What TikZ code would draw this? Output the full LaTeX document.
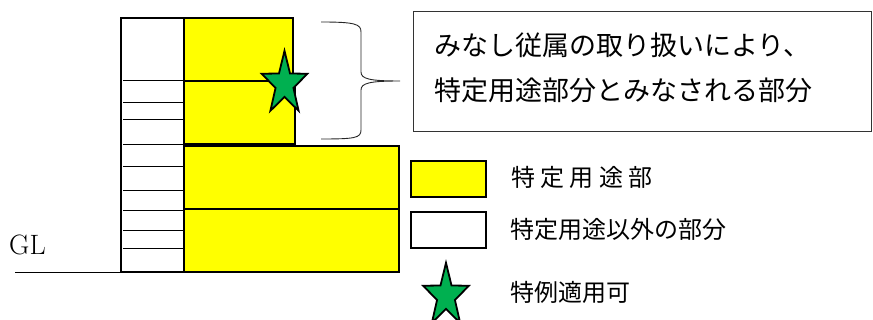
\documentclass[tikz,border=0pt]{standalone}
\usepackage{fontspec}
\usepackage{tikz}
\usetikzlibrary{shapes.geometric}
\newfontfamily\cjk{Noto Sans CJK JP}
\definecolor{floorYellow}{RGB}{255,255,0}
\definecolor{starGreen}{RGB}{0,176,80}

\begin{document}
\begin{tikzpicture}[x=1pt, y=-1pt,
  floor/.style={draw, line width=2.6pt, fill=floorYellow},
  other/.style={draw, line width=2.4pt, fill=white},
  stair/.style={line width=0.8pt},
  starmark/.style={star, star points=5, star point ratio=2.55, draw, line width=1.8pt,
    fill=starGreen, minimum size=48pt, inner sep=0pt, yscale=1.38},
  note/.style={font=\cjk\fontsize{27}{27}\selectfont, anchor=base west, inner sep=0pt},
  legend/.style={font=\cjk\fontsize{24}{24}\selectfont, anchor=base west, inner sep=0pt}]
\useasboundingbox (0,0) rectangle (873,320);

\draw[other] (121,18) rectangle (184,272);
\foreach \y in {80,102,119,144,166,190,210,230,248}
  \draw[stair] (123,\y) -- (184,\y);

\draw[floor] (184,18) rectangle (293,81);
\draw[floor] (184,81) rectangle (295,144);
\draw[floor] (184,146) rectangle (399,209);
\draw[floor] (184,209) rectangle (399,272);

\draw[line width=0.8pt] (15,272) -- (121,272);
\node[font=\fontsize{28}{28}\selectfont, anchor=base west, inner sep=0pt] (gl) at (9,255) {GL};

\node[starmark] (star) at (284.5,84) {};

\draw[line width=0.9pt, black!85] (321,22) .. controls (355,22) and (361,24) .. (361,32)
  -- (361,72) .. controls (361,79) and (370,81) .. (400,81)
  .. controls (370,81) and (361,83) .. (361,90)
  -- (361,130) .. controls (361,138) and (355,139) .. (321,139);

\draw[line width=1pt, black!80] (413,12) rectangle (871,132);
\node[note] (line1) at (434,55.3) {みなし従属の取り扱いにより、};
\node[note] (line2) at (434,100.3) {特定用途部分とみなされる部分};

\draw[floor] (411,161) rectangle (486,197);
\node[legend] (keyuse) at (511,187) {特 定 用 途 部};

\draw[other] (411,212) rectangle (486,248);
\node[legend] (keyother) at (510,239) {特定用途以外の部分};

\node[starmark] (keystar) at (446,296) {};
\node[legend] (keyrule) at (510,302) {特例適用可};
\end{tikzpicture}
\end{document}
